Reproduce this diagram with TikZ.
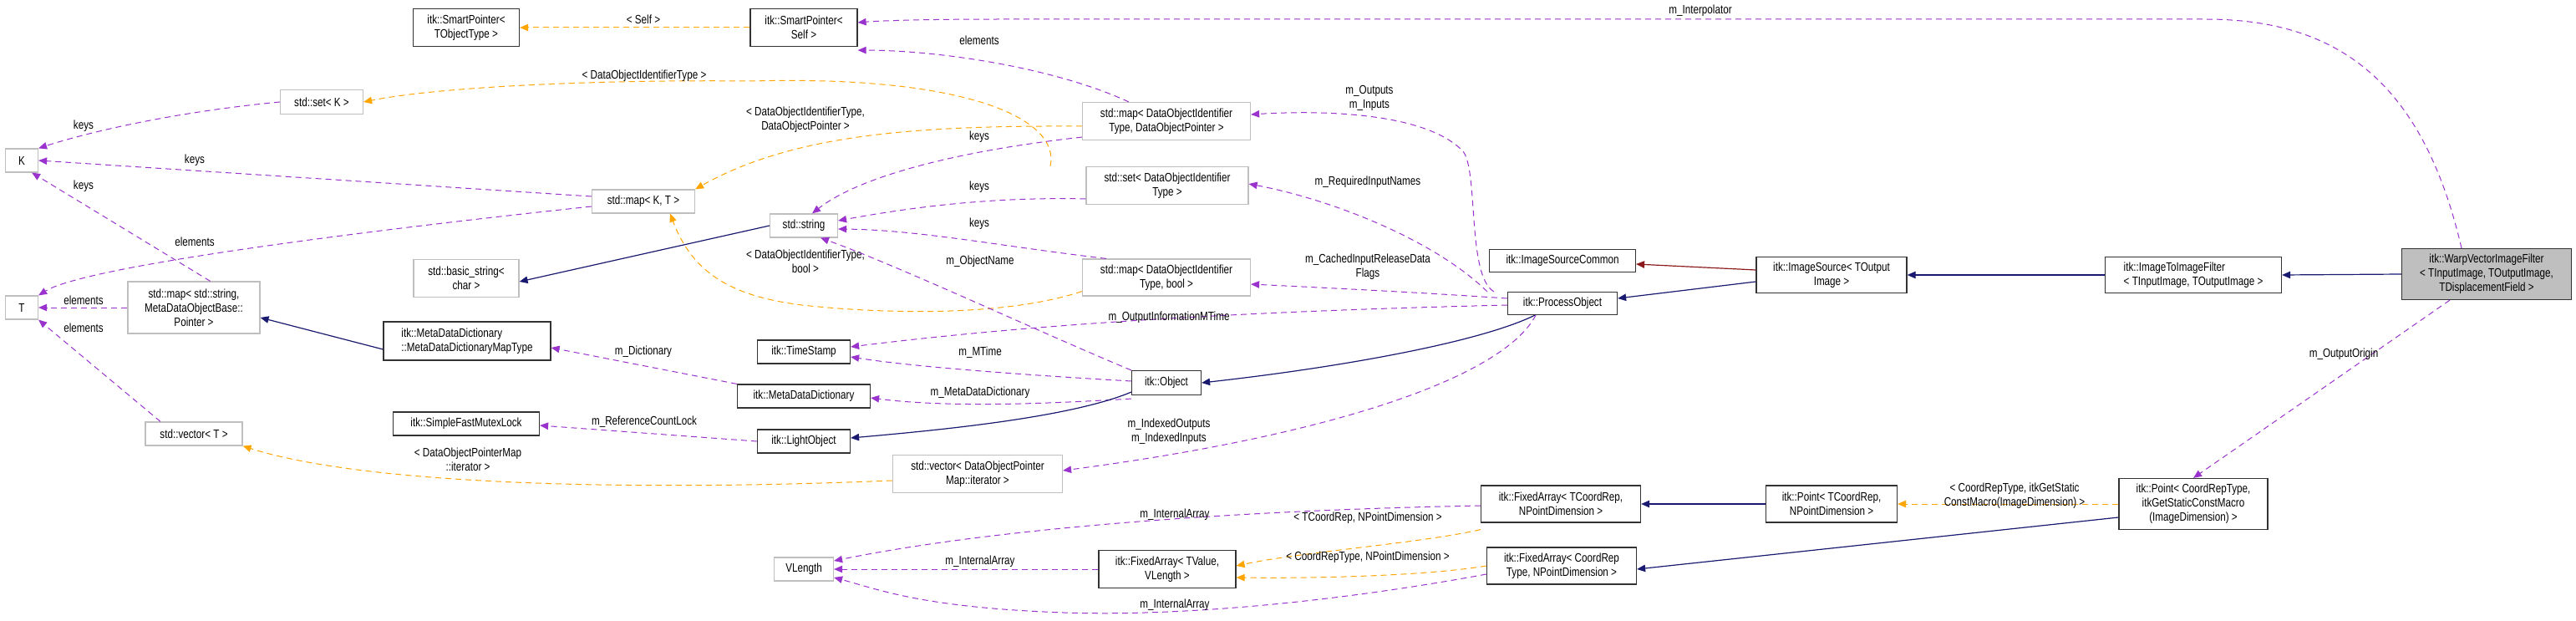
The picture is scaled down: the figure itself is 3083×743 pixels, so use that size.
\documentclass[tikz,border=0pt]{standalone}
\usepackage{fontspec}
\setmainfont{Liberation Sans}[FakeStretch=0.8]
\usetikzlibrary{arrows.meta}
\definecolor{pur}{HTML}{9A32CD}
\definecolor{org}{HTML}{FFA500}
\definecolor{nav}{HTML}{191970}
\definecolor{drd}{HTML}{8B1A1A}
\begin{document}
\begin{tikzpicture}[x=0.5pt,y=-0.5pt,
 font=\fontsize{7.3}{8.5}\selectfont,
 box/.style={draw=black!80,line width=0.6pt,align=center,inner sep=1pt,fill=white},
 ext/.style={draw=black!25,line width=0.6pt,align=center,inner sep=1pt,fill=white},
 tip/.style={-{Triangle[length=5pt,width=4.2pt]}},
 inh/.style={tip,draw=nav,line width=0.6pt},
 drk/.style={tip,draw=drd,line width=0.6pt},
 mem/.style={tip,draw=pur,dash pattern=on 3.5pt off 2.5pt,line width=0.5pt,pur},
 tpl/.style={tip,draw=org,dash pattern=on 3.5pt off 2.5pt,line width=0.5pt,org},
 lbl/.style={align=center,inner sep=0pt,text=black}]
\useasboundingbox (0,0) rectangle (3083,743);
\fill[white] (0,0) rectangle (3083,743);
% nodes
\node[box,minimum width=63.5pt,minimum height=22.5pt] (spT) at (558,33) {itk::SmartPointer<\\TObjectType >};
\node[box,minimum width=64pt,minimum height=22.5pt] (spS) at (962,33) {itk::SmartPointer<\\Self >};
\node[ext,minimum width=49.5pt,minimum height=14.5pt] (setK) at (385,122) {std::set< K >};
\node[ext,minimum width=19.5pt,minimum height=14pt] (K) at (26,192) {K};
\node[ext,minimum width=19.5pt,minimum height=14pt] (T) at (26,368) {T};
\node[ext,minimum width=61.5pt,minimum height=14pt] (mapKT) at (770,241) {std::map< K, T >};
\node[ext,minimum width=79pt,minimum height=31pt] (mapS) at (232,368) {std::map< std::string,\\ MetaDataObjectBase::\\Pointer >};
\node[ext,minimum width=63pt,minimum height=22.5pt] (bstr) at (558,333) {std::basic\_string<\\char >};
\node[box,minimum width=100pt,minimum height=23pt,align=left] (mdmt) at (559,408) {itk::MetaDataDictionary\\::MetaDataDictionaryMapType};
\node[box,minimum width=87.5pt,minimum height=14pt] (mutex) at (558,507) {itk::SimpleFastMutexLock};
\node[ext,minimum width=58pt,minimum height=14pt] (vecT) at (232,519) {std::vector< T >};
\node[ext,minimum width=100.5pt,minimum height=22.5pt] (mapDP) at (1396,145) {std::map< DataObjectIdentifier\\Type, DataObjectPointer >};
\node[ext,minimum width=97pt,minimum height=22.5pt] (setD) at (1397,222) {std::set< DataObjectIdentifier\\Type >};
\node[ext,minimum width=40.5pt,minimum height=14pt] (str) at (962,270) {std::string};
\node[ext,minimum width=100.5pt,minimum height=22pt] (mapDB) at (1396,332) {std::map< DataObjectIdentifier\\Type, bool >};
\node[box,minimum width=55.5pt,minimum height=14pt] (ts) at (962,421) {itk::TimeStamp};
\node[box,minimum width=79.5pt,minimum height=14pt] (mdd) at (962,474) {itk::MetaDataDictionary};
\node[box,minimum width=55.5pt,minimum height=14pt] (lo) at (962,528) {itk::LightObject};
\node[box,minimum width=41.5pt,minimum height=14.5pt] (obj) at (1396,458) {itk::Object};
\node[ext,minimum width=101.5pt,minimum height=22.5pt] (vecD) at (1170,567) {std::vector< DataObjectPointer\\Map::iterator >};
\node[ext,minimum width=35.5pt,minimum height=14pt] (vl) at (962,681) {VLength};
\node[box,minimum width=82pt,minimum height=22.5pt] (faV) at (1397,681) {itk::FixedArray< TValue,\\VLength >};
\node[box,minimum width=87.5pt,minimum height=13.5pt] (isc) at (1870,312) {itk::ImageSourceCommon};
\node[box,minimum width=90pt,minimum height=21.5pt] (is) at (2192,329) {itk::ImageSource< TOutput\\Image >};
\node[box,minimum width=65.5pt,minimum height=13.5pt] (po) at (1870,363) {itk::ProcessObject};
\node[box,minimum width=95.5pt,minimum height=22pt] (faT) at (1868,603) {itk::FixedArray< TCoordRep,\\NPointDimension >};
\node[box,minimum width=78.5pt,minimum height=22pt] (ptT) at (2192,603) {itk::Point< TCoordRep,\\NPointDimension >};
\node[box,minimum width=89.5pt,minimum height=22pt] (faC) at (1869,677) {itk::FixedArray< CoordRep\\Type, NPointDimension >};
\node[box,minimum width=105.5pt,minimum height=21.5pt,align=left] (itf) at (2625,329) {itk::ImageToImageFilter\\< TInputImage, TOutputImage >};
\node[box,fill=black!25,minimum width=101.5pt,minimum height=30.5pt] (wv) at (2976,328) {itk::WarpVectorImageFilter\\< TInputImage, TOutputImage,\\TDisplacementField >};
\node[box,minimum width=89pt,minimum height=30.5pt] (ptC) at (2625,603) {itk::Point< CoordRepType,\\itkGetStaticConstMacro\\(ImageDimension) >};
% edges
\draw[tpl] (spS.west) -- (spT.east);
\node[lbl] at (770,23) {< Self >};
\draw[mem] (mapDP.north west) ++(56,0) .. controls (1260,80) and (1120,60) .. ([yshift=-2pt]spS.south east);
\node[lbl] at (1172,48) {elements};
\draw[tpl] ([yshift=-3pt]mapDP.west) .. controls (1100,150) and (950,160) .. (mapKT.north east);
\node[lbl] at (964,143) {< DataObjectIdentifierType,\\DataObjectPointer >};
\draw[tpl] ([xshift=-70pt]setD.north) .. controls (1270,140) and (1150,90) .. (900,97) .. controls (700,95) and (520,105) .. (setK.east);
\node[lbl] at (771,91) {< DataObjectIdentifierType >};
\draw[tpl] ([yshift=3pt]mapDB.south west) .. controls (1200,380) and (1050,375) .. (960,365) .. controls (880,355) and (830,330) .. ([xshift=16pt]mapKT.south);
\node[lbl] at (964,313) {< DataObjectIdentifierType,\\bool >};
\draw[mem] ([yshift=2pt]mapDP.south west) .. controls (1150,180) and (1030,210) .. ([xshift=5pt]str.north);
\node[lbl] at (1172,164) {keys};
\draw[mem] ([yshift=-8pt]setD.west) .. controls (1180,235) and (1080,250) .. ([yshift=3pt]str.east);
\node[lbl] at (1172,224) {keys};
\draw[mem] ([xshift=-36pt]mapDB.north) .. controls (1200,295) and (1100,275) .. ([yshift=-2pt]str.east);
\node[lbl] at (1172,268) {keys};
\draw[mem] (obj.north west) .. controls (1250,400) and (1080,320) .. ([xshift=10pt]str.south);
\node[lbl] at (1173,313) {m\_ObjectName};
\draw[inh] (str.west) -- ([yshift=-2pt]bstr.east);
\draw[mem] (setK.west) .. controls (200,135) and (100,160) .. (K.north east);
\node[lbl] at (100,151) {keys};
\draw[mem] ([yshift=3pt]mapKT.west) -- (K.east);
\node[lbl] at (233,192) {keys};
\draw[mem] ([xshift=-30pt]mapS.north east) -- ([xshift=-4pt]K.south east);
\node[lbl] at (100,223) {keys};
\draw[mem] ([yshift=-3pt]mapKT.west) .. controls (400,280) and (100,320) .. (T.north east);
\node[lbl] at (233,289) {elements};
\draw[mem] (mapS.west) -- (T.east);
\node[lbl] at (100,359) {elements};
\draw[mem] ([xshift=-20pt]vecT.north) -- (T.south east);
\node[lbl] at (100,392) {elements};
\draw[inh] ([yshift=-5pt]mdmt.west) -- ([yshift=-6pt]mapS.east);
\draw[mem] (mdd.north west) -- ([yshift=-4pt]mdmt.east);
\node[lbl] at (770,421) {m\_Dictionary};
\draw[mem] (lo.west) -- ([yshift=-1pt]mutex.east);
\node[lbl] at (771,505) {m\_ReferenceCountLock};
\draw[tpl] ([yshift=-4pt]vecD.west) .. controls (700,590) and (420,575) .. (vecT.south east);
\node[lbl] at (560,550) {< DataObjectPointerMap\\::iterator >};
\draw[mem] ([yshift=1pt]obj.west) .. controls (1250,450) and (1100,440) .. ([yshift=-3pt]ts.east);
\node[lbl] at (1173,422) {m\_MTime};
\draw[mem] ([yshift=-1pt]po.west) .. controls (1600,370) and (1300,380) .. ([yshift=3pt]ts.east);
\node[lbl] at (1399,380) {m\_OutputInformationMTime};
\draw[mem] ([yshift=-2pt]obj.south west) .. controls (1300,480) and (1150,490) .. ([yshift=-1pt]mdd.east);
\node[lbl] at (1173,470) {m\_MetaDataDictionary};
\draw[inh] ([yshift=2pt]obj.south west) .. controls (1280,500) and (1120,515) .. ([yshift=2pt]lo.east);
\draw[inh] ([xshift=-1pt]po.south) ++(-31,0) .. controls (1770,410) and (1600,440) .. (obj.east);
\draw[mem] ([xshift=-16pt]po.south) .. controls (1800,450) and (1600,520) .. ([yshift=2pt]vecD.east);
\node[lbl] at (1399,516) {m\_IndexedOutputs\\m\_IndexedInputs};
\draw[mem] ([xshift=-8pt]po.north west) .. controls (1755,330) and (1770,200) .. (1750,180) .. controls (1700,130) and (1560,133) .. ([yshift=4pt]mapDP.east);
\node[lbl] at (1639,117) {m\_Outputs\\m\_Inputs};
\draw[mem] ([xshift=-12pt]po.north west) .. controls (1720,290) and (1600,240) .. ([yshift=1pt]setD.east);
\node[lbl] at (1637,218) {m\_RequiredInputNames};
\draw[mem] ([yshift=3pt]po.west) .. controls (1700,350) and (1600,345) .. ([yshift=-4pt]mapDB.east);
\node[lbl] at (1637,319) {m\_CachedInputReleaseData\\Flags};
\draw[drk] ([yshift=3pt]is.west) -- ([yshift=-2pt]isc.east);
\draw[inh] ([yshift=-4pt]is.west) -- ([yshift=3pt]po.east);
\draw[inh] (itf.west) -- (is.east);
\draw[inh] (wv.west) -- (itf.east);
\draw[mem] ([xshift=-15pt]wv.north) .. controls (2900,100) and (2800,23) .. (2640,23) -- (1200,23) .. controls (1100,23) and (1050,25) .. ([yshift=3pt]spS.east);
\node[lbl] at (2035,13) {m\_Interpolator};
\draw[mem] ([xshift=-22pt]wv.south) -- (ptC.north);
\node[lbl] at (2805,424) {m\_OutputOrigin};
\draw[tpl] (ptC.west) -- (ptT.east);
\node[lbl] at (2411,593) {< CoordRepType, itkGetStatic\\ConstMacro(ImageDimension) >};
\draw[inh] ([yshift=-8pt]ptC.west) -- ([yshift=-2pt]faC.east);
\draw[inh] (ptT.west) -- (faT.east);
\draw[mem] ([yshift=-1pt]faT.west) .. controls (1500,610) and (1200,630) .. ([yshift=5pt]vl.east);
\node[lbl] at (1406,616) {m\_InternalArray};
\draw[tpl] ([yshift=-4pt]faT.south west) .. controls (1700,650) and (1560,660) .. ([yshift=2pt]faV.east);
\node[lbl] at (1637,620) {< TCoordRep, NPointDimension >};
\draw[tpl] ([yshift=0pt]faC.west) .. controls (1700,690) and (1560,692) .. ([yshift=-5pt]faV.east);
\node[lbl] at (1637,667) {< CoordRepType, NPointDimension >};
\draw[mem] (faV.west) -- (vl.east);
\node[lbl] at (1173,672) {m\_InternalArray};
\draw[mem] ([yshift=-5pt]faC.west) .. controls (1600,720) and (1400,740) .. (1250,732) .. controls (1100,725) and (1050,705) .. ([yshift=-5pt]vl.east);
\node[lbl] at (1406,724) {m\_InternalArray};
\end{tikzpicture}
\end{document}
